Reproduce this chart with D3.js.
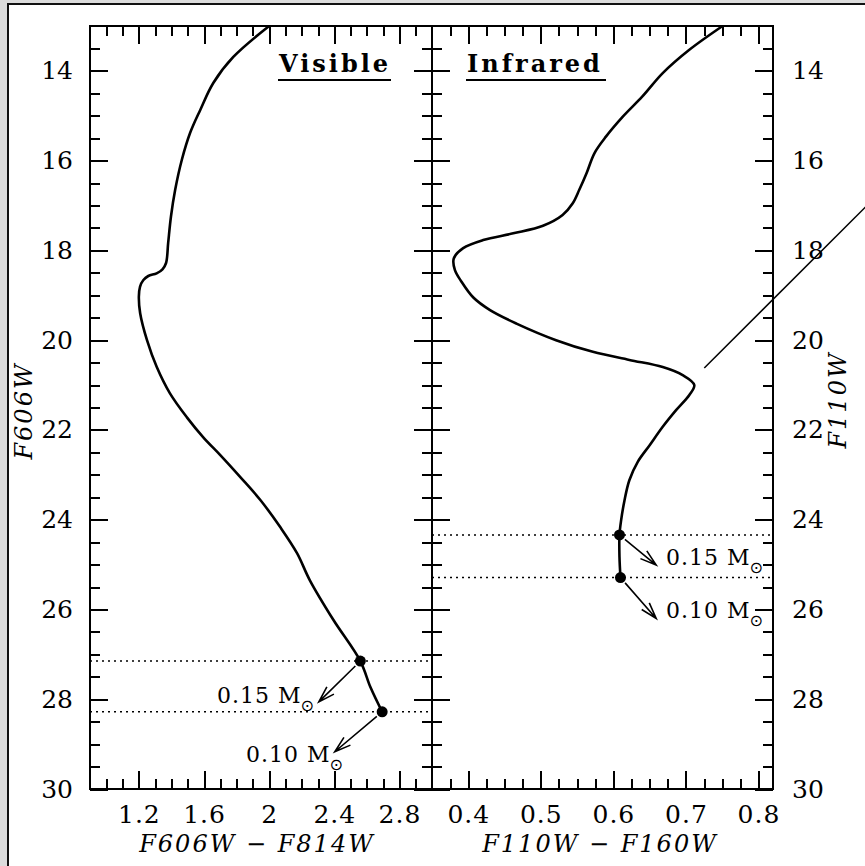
<!DOCTYPE html>
<meta charset="utf-8">
<style>
    body {
        margin: 0;
        background: #fff;
    }

    text {
        font-family: "DejaVu Serif", serif;
        fill: #000;
    }

    .tick line {
        stroke: #000;
        stroke-width: 2;
        shape-rendering: crispEdges;
    }

    .axis path.domain {
        display: none;
    }

    .axis text {
        font-size: 25px;
        font-family: "DejaVu Serif", serif;
    }

    .frame {
        fill: none;
        stroke: #000;
        stroke-width: 2;
    }

    .track {
        fill: none;
        stroke: #000;
        stroke-width: 2.6;
    }

    .limit {
        stroke: #000;
        stroke-width: 1.5;
        stroke-dasharray: 2, 4;
    }

    .arrow {
        fill: none;
        stroke: #000;
        stroke-width: 1.6;
    }
</style>

<body>
    <script src="https://d3js.org/d3.v7.min.js"></script>
    <script>

        // visible isochrone (F606W-F814W vs F606W)
        var visColor = [2.00, 1.78, 1.657, 1.577, 1.515, 1.464, 1.423, 1.397, 1.38, 1.367, 1.345, 1.309,
            1.258, 1.228, 1.207, 1.20, 1.208, 1.25, 1.31, 1.39, 1.495, 1.597, 1.70, 1.823, 1.946,
            2.069, 2.172, 2.25, 2.394, 2.56, 2.623, 2.694];
        var visMag = [13.0, 13.69, 14.27, 14.87, 15.38, 15.98, 16.65, 17.25, 17.83, 18.28, 18.42, 18.51,
            18.57, 18.66, 18.81, 19.03, 19.4, 20.0, 20.6, 21.18, 21.72, 22.17, 22.56, 23.05, 23.56,
            24.17, 24.75, 25.35, 26.23, 27.15, 27.74, 28.28];

        // infrared isochrone (F110W-F160W vs F110W)
        var irColor = [0.7505, 0.7047, 0.668, 0.640, 0.613, 0.590, 0.574, 0.563, 0.553, 0.544, 0.530,
            0.503, 0.462, 0.4205, 0.393, 0.380, 0.3816, 0.39, 0.407, 0.430, 0.4664, 0.521, 0.5717,
            0.622, 0.668, 0.6955, 0.7115, 0.7047, 0.6864, 0.668, 0.650, 0.6336, 0.622, 0.6153,
            0.6107, 0.6084, 0.6084, 0.6098];
        var irMag = [13.0, 13.53, 14.05, 14.57, 15.02, 15.46, 15.83, 16.28, 16.65, 16.95, 17.21,
            17.45, 17.62, 17.77, 17.95, 18.18, 18.44, 18.68, 19.05, 19.33, 19.63, 20.0, 20.26,
            20.44, 20.60, 20.78, 21.0, 21.22, 21.56, 21.93, 22.34, 22.71, 23.12, 23.57,
            24.01, 24.34, 24.83, 25.29];

        // mass points, arrow tips and labels
        var massLabels = ["0.15", "0.10"];
        var visDotColor = [2.56, 2.694], visDotMag = [27.15, 28.28];
        var visTipColor = [2.305, 2.403], visTipMag = [28.06, 29.17];
        var visLabelColor = [1.68, 1.858], visLabelMag = [28.08, 29.39];
        var irDotColor = [0.6084, 0.6098], irDotMag = [24.34, 25.29];
        var irTipColor = [0.659, 0.659], irTipMag = [25.01, 26.2];
        var irLabelColor = [0.6726, 0.6726], irLabelMag = [25.01, 26.2];

        // stray pointer line on the right
        var pointerColor = [0.7253, 0.96], pointerMag = [20.62, 16.83];

        var magTicks = [14, 16, 18, 20, 22, 24, 26, 28, 30];
        var visTicks = [1.2, 1.6, 2, 2.4, 2.8];
        var irTicks = [0.4, 0.5, 0.6, 0.7, 0.8];

        var W = 865, H = 866;
        var plotTop = 26, plotBottom = 789;

        var svg = d3.select("body").append("svg")
            .attr("width", W)
            .attr("height", H);

        // window-like frame
        svg.append("rect").attr("width", W).attr("height", H).attr("fill", "#dcdcdc");
        svg.append("rect").attr("x", 8).attr("y", 4).attr("width", W).attr("height", H)
            .attr("fill", "#fff").attr("stroke", "#111").attr("stroke-width", 2);

        var y = d3.scaleLinear().domain([13, 30]).range([plotTop, plotBottom]);
        var xv = d3.scaleLinear().domain([0.9, 3.0]).range([90, 432]);
        var xi = d3.scaleLinear().domain([0.35, 0.82]).range([432, 773]);

        function range(a, b, s) {
            return d3.range(Math.round((b - a) / s) + 1).map(function (i) { return +(a + i * s).toFixed(4); });
        }
        var magMinor = range(13.5, 29.5, 0.5).filter(function (v) { return v % 2 != 0; });

        function panel(x, xticks, xminor, leftLabels, rightLabels) {
            var x0 = x.range()[0], x1 = x.range()[1];
            var g = svg.append("g");

            // bottom / top
            var ba = g.append("g").attr("class", "axis").attr("transform", "translate(0," + plotBottom + ")")
                .call(d3.axisBottom(x).tickValues(xticks).tickSize(-18)
                    .tickFormat(function (d) { return d; }));
            ba.selectAll("text").attr("y", 34).attr("dy", null).attr("letter-spacing", 1);
            g.append("g").attr("class", "axis").attr("transform", "translate(0," + plotBottom + ")")
                .call(d3.axisBottom(x).tickValues(xminor).tickSize(-10).tickFormat(""));
            g.append("g").attr("class", "axis").attr("transform", "translate(0," + plotTop + ")")
                .call(d3.axisTop(x).tickValues(xticks).tickSize(-18).tickFormat(""));
            g.append("g").attr("class", "axis").attr("transform", "translate(0," + plotTop + ")")
                .call(d3.axisTop(x).tickValues(xminor).tickSize(-10).tickFormat(""));

            // left / right
            var la = g.append("g").attr("class", "axis").attr("transform", "translate(" + x0 + ",0)")
                .call(d3.axisLeft(y).tickValues(magTicks).tickSize(-18)
                    .tickFormat(leftLabels ? function (d) { return d; } : ""));
            la.selectAll("text").attr("x", -17);
            g.append("g").attr("class", "axis").attr("transform", "translate(" + x0 + ",0)")
                .call(d3.axisLeft(y).tickValues(magMinor).tickSize(-10).tickFormat(""));
            var ra = g.append("g").attr("class", "axis").attr("transform", "translate(" + x1 + ",0)")
                .call(d3.axisRight(y).tickValues(magTicks).tickSize(-18)
                    .tickFormat(rightLabels ? function (d) { return d; } : ""));
            ra.selectAll("text").attr("x", 19);
            g.append("g").attr("class", "axis").attr("transform", "translate(" + x1 + ",0)")
                .call(d3.axisRight(y).tickValues(magMinor).tickSize(-10).tickFormat(""));

            g.append("rect").attr("class", "frame")
                .attr("x", x0).attr("y", plotTop).attr("width", x1 - x0).attr("height", plotBottom - plotTop);
            return g;
        }

        panel(xv, visTicks, range(1.0, 2.9, 0.1).filter(function (v) { return visTicks.indexOf(v) < 0; }), true, false);
        panel(xi, irTicks, range(0.375, 0.8, 0.025).filter(function (v) { return irTicks.indexOf(v) < 0; }), false, true);

        var line = d3.line().curve(d3.curveCatmullRom.alpha(0.5));

        function drawSet(x, colors, mags, dotC, dotM, tipC, tipM, labC, labM) {
            svg.append("path").attr("class", "track")
                .attr("d", line(colors.map(function (c, i) { return [x(c), y(mags[i])]; })));

            dotM.forEach(function (m, i) {
                svg.append("line").attr("class", "limit")
                    .attr("x1", x.range()[0]).attr("x2", x.range()[1])
                    .attr("y1", y(m)).attr("y2", y(m));
            });

            dotM.forEach(function (m, i) {
                var px = x(dotC[i]), py = y(m);
                var tx = x(tipC[i]), ty = y(tipM[i]);
                var a = Math.atan2(ty - py, tx - px);
                var sx = px + 7 * Math.cos(a), sy = py + 7 * Math.sin(a);
                var h = 17, s = 0.3;
                svg.append("path").attr("class", "arrow")
                    .attr("d", "M" + sx + "," + sy + "L" + tx + "," + ty +
                        "M" + (tx - h * Math.cos(a - s)) + "," + (ty - h * Math.sin(a - s)) +
                        "L" + tx + "," + ty +
                        "L" + (tx - h * Math.cos(a + s)) + "," + (ty - h * Math.sin(a + s)));
                svg.append("circle").attr("cx", px).attr("cy", py).attr("r", 5.5).attr("fill", "#000");

                var t = svg.append("text").attr("x", x(labC[i])).attr("y", y(labM[i]))
                    .attr("font-size", 22).attr("letter-spacing", 1);
                t.append("tspan").text(massLabels[i] + "  M");
                t.append("tspan").attr("dy", 8).attr("dx", -1).attr("font-size", 16)
                    .attr("font-family", "DejaVu Sans").text("\u2299");
            });
        }

        drawSet(xv, visColor, visMag, visDotColor, visDotMag, visTipColor, visTipMag, visLabelColor, visLabelMag);
        drawSet(xi, irColor, irMag, irDotColor, irDotMag, irTipColor, irTipMag, irLabelColor, irLabelMag);

        svg.append("line").attr("stroke", "#000").attr("stroke-width", 1.5)
            .attr("x1", xi(pointerColor[0])).attr("y1", y(pointerMag[0]))
            .attr("x2", xi(pointerColor[1])).attr("y2", y(pointerMag[1]));

        // panel titles
        function title(txt, x, w) {
            svg.append("text").attr("x", x).attr("y", 72)
                .attr("font-size", 24).attr("font-weight", "bold").attr("letter-spacing", 3)
                .text(txt);
            svg.append("line").attr("stroke", "#000").attr("stroke-width", 2)
                .attr("x1", x - 1).attr("x2", x + w).attr("y1", 80).attr("y2", 80);
        }
        title("Visible", 279, 112);
        title("Infrared", 467, 139);

        // axis titles
        function axisTitle(txt, transform) {
            svg.append("text").attr("transform", transform).attr("text-anchor", "middle")
                .attr("font-size", 24).attr("font-style", "italic").attr("letter-spacing", 2)
                .text(txt);
        }
        axisTitle("F606W \u2212 F814W", "translate(257,852)");
        axisTitle("F110W \u2212 F160W", "translate(600,852)");
        axisTitle("F606W", "translate(32,411) rotate(-90)");
        axisTitle("F110W", "translate(846,400) rotate(-90)");

    </script>
</body>
